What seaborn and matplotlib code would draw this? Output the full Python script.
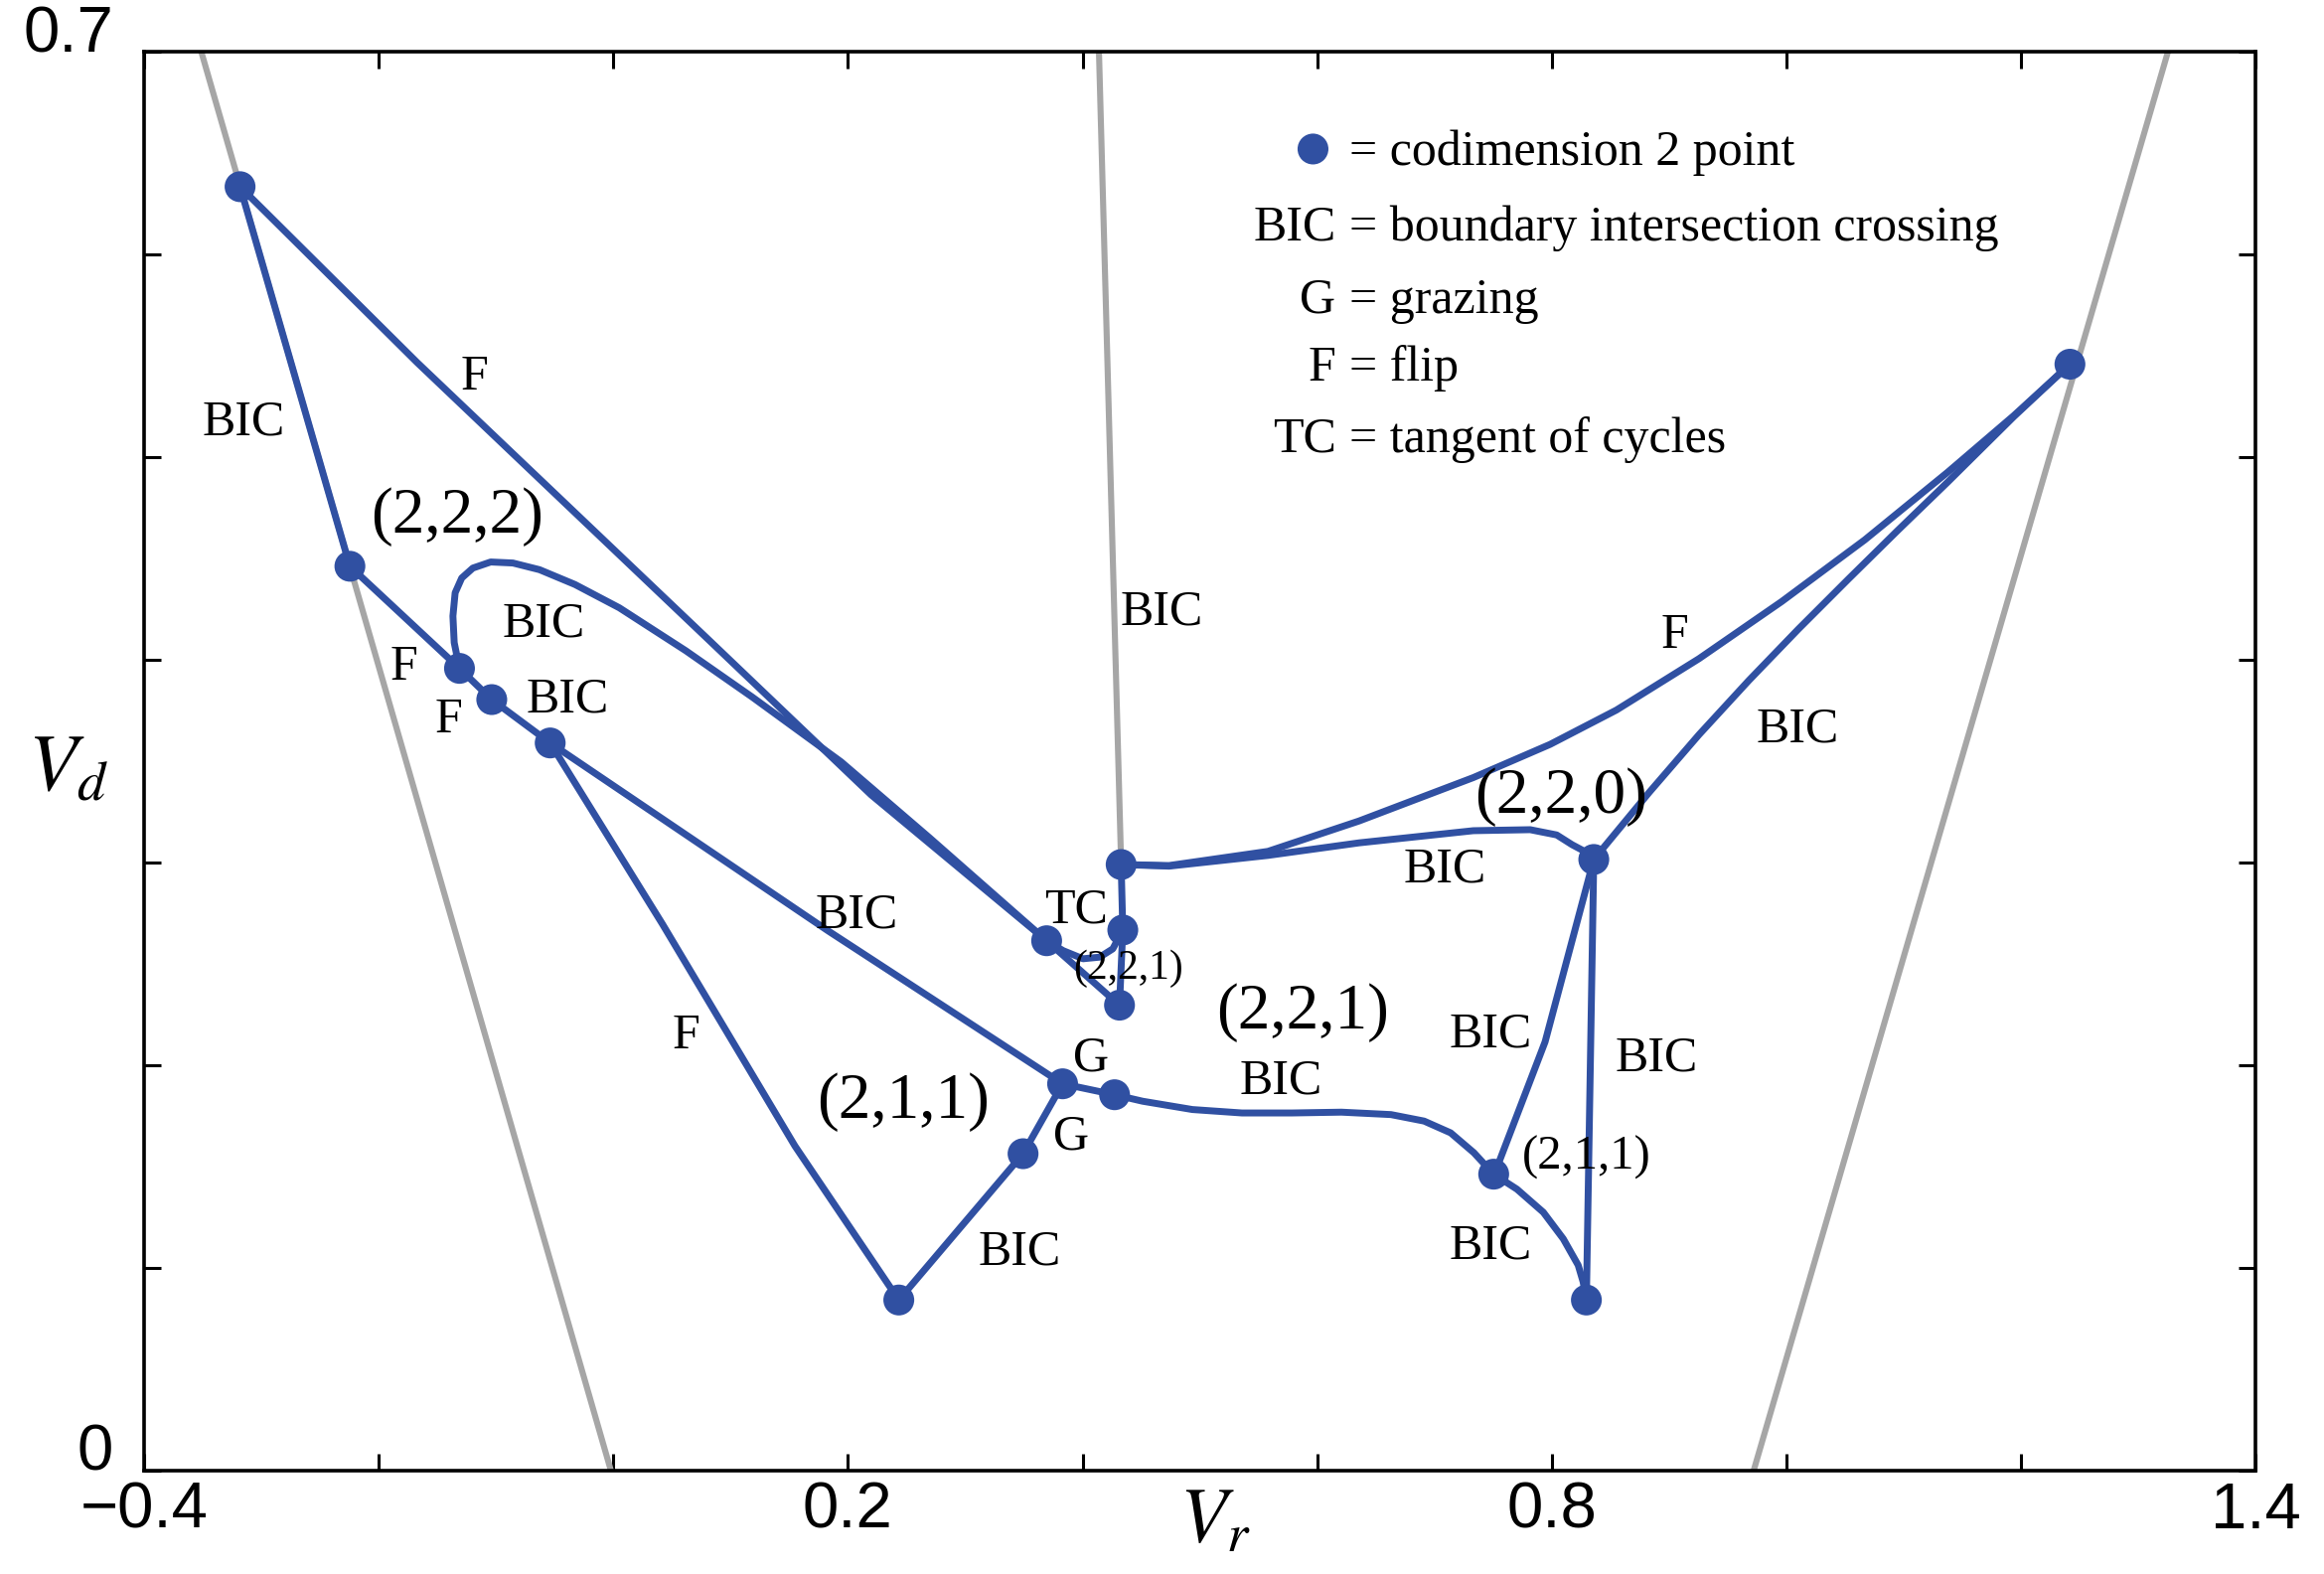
import numpy as np
import pandas as pd
import matplotlib
matplotlib.use('Agg')
import matplotlib.pyplot as plt
import seaborn as sns

# two-parameter bifurcation diagram (Vr, Vd)
sns.set_style('ticks')
plt.rcParams['font.family'] = ['Liberation Serif', 'DejaVu Serif']
plt.rcParams['mathtext.fontset'] = 'stix'
plt.rcParams['text.color'] = 'black'
plt.rcParams['xtick.color'] = 'black'
plt.rcParams['ytick.color'] = 'black'

BLUE = '#3050A2'
GRAY = '#A6A6A6'

# grey boundary lines
gray_left_x = [-0.351, -0.002]
gray_left_y = [0.70, 0.0]
gray_right_x = [0.972, 1.325]
gray_right_y = [0.0, 0.70]
gray_mid_x = [0.414, 0.4329]
gray_mid_y = [0.70, 0.299]

# blue bifurcation curves
bic_outer_x = [-0.318, -0.2244]
bic_outer_y = [0.6335, 0.4462]

flip_top_x = [-0.318, -0.1672, 0.0808, 0.2198, 0.3694, 0.4315]
flip_top_y = [0.6335, 0.5468, 0.4102, 0.3334, 0.2614, 0.2296]

loop_x = [-0.1309, -0.1355, -0.1366, -0.1347, -0.1291, -0.1196, -0.1044, -0.0855, -0.0628,
          -0.0326, 0.0052, 0.0619, 0.1186, 0.1942, 0.2698, 0.3694,
          0.3835, 0.4004, 0.4146, 0.4258, 0.4343]
loop_y = [0.3955, 0.4085, 0.4216, 0.4331, 0.4404, 0.4453, 0.4483, 0.4478, 0.4445,
          0.4372, 0.4257, 0.4045, 0.3816, 0.3497, 0.3121, 0.2614,
          0.2565, 0.2525, 0.2533, 0.2574, 0.2667]

lower_x = [-0.2244, -0.131, -0.1035, -0.0537, 0.1831, 0.383, 0.4273,
           0.4512, 0.4936, 0.5359, 0.5783, 0.6206, 0.6629, 0.6911, 0.7137, 0.7335, 0.7504,
           0.7702, 0.7927, 0.8097, 0.8224, 0.8266, 0.8294]
lower_y = [0.4462, 0.3958, 0.3804, 0.359, 0.2663, 0.1908, 0.1854,
           0.1822, 0.1781, 0.1764, 0.1764, 0.1768, 0.1756, 0.1724, 0.1666, 0.1568, 0.1462,
           0.1388, 0.1274, 0.1143, 0.1013, 0.0931, 0.0841]

flip_low_x = [-0.0537, 0.042, 0.1549, 0.2434]
flip_low_y = [0.359, 0.2696, 0.1601, 0.0841]

bic_g_x = [0.2434, 0.3493, 0.383]
bic_g_y = [0.0841, 0.1563, 0.1908]

short_x = [0.4329, 0.4343, 0.4315]
short_y = [0.299, 0.2667, 0.2296]

flip_right_x = [0.4329, 0.4737, 0.558, 0.6357, 0.733, 0.7985, 0.8549, 0.9254,
                0.9959, 1.0666, 1.1371, 1.1936, 1.2415]
flip_right_y = [0.299, 0.2985, 0.3055, 0.3205, 0.3419, 0.3583, 0.3752, 0.4006,
                0.4288, 0.4592, 0.4925, 0.5205, 0.5459]

bic_220_x = [0.4329, 0.4737, 0.558, 0.6357, 0.733, 0.7815, 0.8041, 0.8172, 0.8266, 0.8357]
bic_220_y = [0.299, 0.2982, 0.3035, 0.3097, 0.3157, 0.3162, 0.3136, 0.3088, 0.3059, 0.3015]

bic_up_x = [0.8357, 0.8832, 0.9254, 0.9678, 1.0101, 1.0524, 1.0948, 1.1371, 1.1936, 1.2415]
bic_up_y = [0.3015, 0.3348, 0.3631, 0.3898, 0.4152, 0.4397, 0.4639, 0.4876, 0.5200, 0.5459]

bic_diag_x = [0.8357, 0.7942, 0.751]
bic_diag_y = [0.3015, 0.2115, 0.1462]

bic_vert_x = [0.8357, 0.8294]
bic_vert_y = [0.3015, 0.0841]

# codimension 2 points
pts_x = [-0.318, -0.2244, -0.131, -0.1035, -0.0537, 0.2434, 0.3493, 0.383, 0.4273,
         0.3694, 0.4343, 0.4315, 0.4329, 0.8357, 0.7504, 0.8294, 1.2415]
pts_y = [0.6335, 0.4462, 0.3958, 0.3804, 0.359, 0.0841, 0.1563, 0.1908, 0.1854,
         0.2614, 0.2667, 0.2296, 0.299, 0.3015, 0.1462, 0.0841, 0.5459]

# curve / region annotations
label_text = ['F', 'BIC', '(2,2,2)', 'BIC', 'F', 'F', 'BIC', 'BIC', 'F', 'BIC',
              '(2,2,0)', 'BIC', 'TC', '(2,2,1)', 'BIC', 'F', '(2,2,1)', 'BIC', 'BIC',
              'G', 'BIC', '(2,1,1)', 'G', '(2,1,1)', 'BIC', 'BIC']
label_x = [-0.1183, -0.3146, -0.1331, -0.0595, -0.1786, -0.1407, -0.0386, 0.4673, 0.905, 1.009,
           0.8075, 0.7086, 0.3948, 0.4386, 0.2074, 0.0623, 0.5877, 0.7477, 0.8888,
           0.4076, 0.5688, 0.2473, 0.3907, 0.8295, 0.7477, 0.3462]
label_y = [0.5333, 0.5109, 0.4630, 0.4117, 0.3904, 0.3642, 0.3742, 0.4176, 0.406, 0.3598,
           0.3244, 0.2906, 0.2704, 0.2426, 0.268, 0.2085, 0.218, 0.2092, 0.1971,
           0.1974, 0.1859, 0.174, 0.1587, 0.1485, 0.1046, 0.1015]
label_size = [18, 18, 23.5, 18, 18, 18, 18, 18, 18, 18,
              23.5, 18, 18, 15, 18, 18, 23.5, 18, 18,
              18, 18, 23.5, 18, 17.5, 18, 18]

# key text
key_left = ['', 'BIC', 'G', 'F', 'TC']
key_right = ['= codimension 2 point', '= boundary intersection crossing',
             '= grazing', '= flip', '= tangent of cycles']
key_y = [0.6440, 0.6072, 0.5712, 0.5377, 0.5026]

xtick_vals = [-0.4, -0.2, 0.0, 0.2, 0.4, 0.6, 0.8, 1.0, 1.2, 1.4]
xtick_text = ['\u22120.4', '', '', '0.2', '', '', '0.8', '', '', '1.4']
ytick_vals = [0.0, 0.1, 0.2, 0.3, 0.4, 0.5, 0.6, 0.7]
ytick_text = ['0', '', '', '', '', '', '', '0.7']


def draw_curve(ax, xs, ys, color, lw, z):
    df = pd.DataFrame({'x': xs, 'y': ys})
    sns.lineplot(data=df, x='x', y='y', sort=False, estimator=None, color=color,
                 lw=lw, ax=ax, zorder=z, solid_capstyle='round', solid_joinstyle='round')


fig = plt.figure(figsize=(11.695, 7.92), dpi=200)
ax = fig.add_axes([0.0619, 0.0658, 0.9088, 0.9012])

for gx, gy in [(gray_left_x, gray_left_y), (gray_right_x, gray_right_y), (gray_mid_x, gray_mid_y)]:
    draw_curve(ax, gx, gy, GRAY, 2.2, 1)

curves = [(bic_outer_x, bic_outer_y), (flip_top_x, flip_top_y), (loop_x, loop_y),
          (lower_x, lower_y), (flip_low_x, flip_low_y), (bic_g_x, bic_g_y),
          (short_x, short_y), (flip_right_x, flip_right_y), (bic_220_x, bic_220_y),
          (bic_up_x, bic_up_y), (bic_diag_x, bic_diag_y), (bic_vert_x, bic_vert_y)]
for cx, cy in curves:
    draw_curve(ax, cx, cy, BLUE, 2.5, 2)

sns.scatterplot(x=pts_x, y=pts_y, s=125, color=BLUE, edgecolor='none', ax=ax, zorder=5)

for t, x, y, s in zip(label_text, label_x, label_y, label_size):
    ax.text(x, y, t, fontsize=s, ha='center', va='baseline', zorder=6)

# key in the upper right
sns.scatterplot(x=[0.5964], y=[0.6521], s=125, color=BLUE, edgecolor='none', ax=ax, zorder=5)
for left, right, y in zip(key_left, key_right, key_y):
    if left:
        ax.text(0.616, y, left, fontsize=18, ha='right', va='baseline')
    ax.text(0.627, y, right, fontsize=18, ha='left', va='baseline')

ax.set_xlim(-0.4, 1.4)
ax.set_ylim(0, 0.7)
ax.set_xticks(xtick_vals, labels=xtick_text)
ax.set_yticks(ytick_vals, labels=ytick_text)
ax.tick_params(direction='in', length=6, width=1.1, top=True, right=True,
               labelsize=23.5, colors='black')
ax.tick_params(axis='x', pad=4)
ax.tick_params(axis='y', pad=11)
for lbl in ax.get_xticklabels() + ax.get_yticklabels():
    lbl.set_fontfamily('Liberation Sans')
for lbl in ax.get_yticklabels():
    lbl.set_verticalalignment('baseline')
for sp in ax.spines.values():
    sp.set_visible(True)
    sp.set_color('black')
    sp.set_linewidth(1.3)

ax.set_xlabel('')
ax.set_ylabel('')
ax.text(-0.036, 0.493, r'$V_d$', transform=ax.transAxes, fontsize=29, ha='center', va='center')
ax.text(0.507, -0.037, r'$V_r$', transform=ax.transAxes, fontsize=28, ha='center', va='center')

fig.savefig('out.png', dpi=200, facecolor='white')
plt.close(fig)
